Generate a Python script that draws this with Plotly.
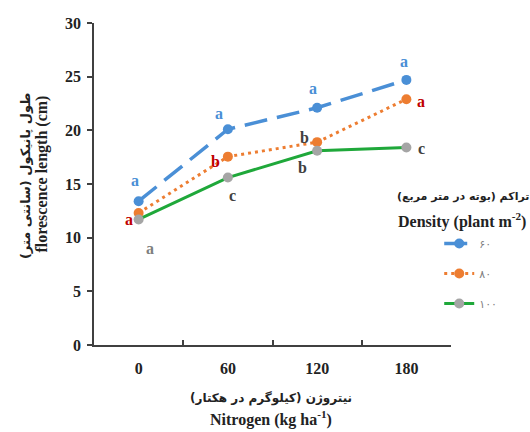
import plotly.graph_objects as go

# Nitrogen levels (kg/ha) and inflorescence length (cm) per plant density
nitrogen = ["0", "60", "120", "180"]
density_names = ["۶۰", "۸۰", "۱۰۰"]
len_d60 = [13.4, 20.1, 22.1, 24.7]
len_d80 = [12.3, 17.55, 18.9, 22.9]
len_d100 = [11.7, 15.6, 18.1, 18.4]

# Mean-comparison letters for each series
letters_d60 = ["a", "a", "a", "a"]
letters_d80 = ["a", "b", "b", "a"]
letters_d100 = ["a", "c", "b", "c"]

BLUE = "#4a8fd6"
ORANGE = "#ed7d31"
GREEN = "#1fa83a"
GREY = "#a5a5a5"
SERIF = "Liberation Serif, Times New Roman, serif"
ARABIC = "DejaVu Sans, sans-serif"

fig = go.Figure()

series = [
    (len_d60, density_names[0], dict(color=BLUE, width=3.5, dash="23px,10px"), BLUE),
    (len_d80, density_names[1], dict(color=ORANGE, width=3, dash="3px,4px"), ORANGE),
    (len_d100, density_names[2], dict(color=GREEN, width=3), GREY),
]
for i, (vals, name, line, mcol) in enumerate(series):
    fig.add_trace(go.Scatter(
        x=nitrogen, y=vals, name=name, mode="lines+markers",
        line=line, marker=dict(size=10, color=mcol),
        legendgroup=f"g{i}",
    ))

# letter colours and pixel offsets from each point
letter_style = [
    (len_d60, letters_d60, [BLUE] * 4,
     [(-4, 21), (-9, 16), (-4, 19), (-2, 18)]),
    (len_d80, letters_d80, ["#c00000", "#c00000", "#404040", "#c00000"],
     [(-10, -7), (-12, -5), (-13, 5), (15, -2)]),
    (len_d100, letters_d100, ["#7f7f7f", "#404040", "#404040", "#404040"],
     [(11, -29), (5, -18), (-15, -17), (15, -1)]),
]
for vals, lets, cols, offs in letter_style:
    for idx, (yv, t, c, (dx, dy)) in enumerate(zip(vals, lets, cols, offs)):
        # category axis: position by category index
        fig.add_annotation(x=idx, y=yv, text=t, showarrow=False,
                           xshift=dx, yshift=dy,
                           font=dict(family=SERIF, size=16, color=c, weight="bold"))

# axis titles (Persian + English) and legend heading
def note(text, x, y, font, angle=0):
    fig.add_annotation(text=text, x=x, y=y, xref="paper", yref="paper",
                       showarrow=False, textangle=angle,
                       xanchor="center", yanchor="middle", font=font)

fa_font = dict(family=ARABIC, size=12, color="#222222", weight="bold")
fa_ytitle = dict(family=ARABIC, size=13, color="#222222", weight="bold")
fa_small = dict(family=ARABIC, size=11, color="#222222", weight="bold")
en_font = dict(family=SERIF, size=16, color="#222222", weight="bold")

note("طول پانیکول (سانتی متر)", -0.19, 0.525, fa_ytitle, -90)
note("florescence length (cm)", -0.145, 0.53, en_font, -90)
note("نیتروژن (کیلوگرم در هکتار)", 0.496, -0.165, fa_font)
note("Nitrogen (kg ha<sup>-1</sup>)", 0.496, -0.227, en_font)
note("تراکم (بوته در متر مربع)", 1.035, 0.462, fa_small)
note("Density (plant m<sup>-2</sup>)", 1.03, 0.388, en_font)

axis_common = dict(
    showline=True, linecolor="#404040", linewidth=1.5,
    showgrid=False, zeroline=False, ticklen=5, tickwidth=1.5,
    tickcolor="#404040",
    tickfont=dict(family=SERIF, size=16, color="#222222", weight="bold"),
)

fig.update_layout(
    width=530, height=432,
    margin=dict(l=94, r=79, t=23, b=87),
    paper_bgcolor="white", plot_bgcolor="white",
    showlegend=True,
    legend=dict(x=0.967, y=0.36, xanchor="left", yanchor="top",
                bgcolor="rgba(0,0,0,0)", itemwidth=30,
                tracegroupgap=11,
                font=dict(family=ARABIC, size=11, color="#7f7f7f")),
    xaxis=dict(type="category", range=[-0.5, 3.5], tickson="boundaries",
               ticks="inside", ticklabelstandoff=8, **axis_common),
    yaxis=dict(range=[0, 30], dtick=5, ticks="outside",
               ticklabelstandoff=3, **axis_common),
)

fig.write_html("out.html")
